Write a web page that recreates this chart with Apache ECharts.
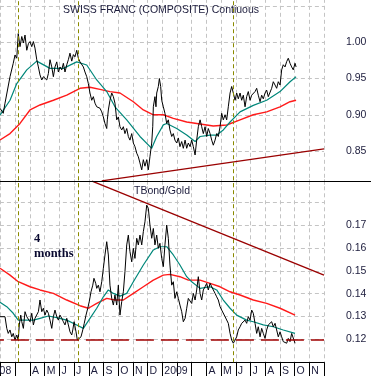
<!DOCTYPE html>
<html><head><meta charset="utf-8">
<script src="https://cdn.jsdelivr.net/npm/echarts@6/dist/echarts.min.js"></script>
<style>html,body{margin:0;padding:0;background:#fff;overflow:hidden}#c{width:371px;height:376px}</style>
</head><body><div id="c"></div>
<script>
// x values are months counted from 1 Jan 2008 (0 = Jan 2008, 12 = Jan 2009)
const monthLabels = ['2008','','','A','M','J','J','A','S','O','N','D','2009','','','A','M','J','J','A','S','O','N',''];
const eventMonths = [2.18, 6.27, 16.81];

const chfPrice = [
[0.96,0.909],[1.18,0.902],[1.30,0.916],[1.64,0.9525],[1.86,0.971],[1.98,0.9825],[2.10,0.978],[2.20,1.012],
[2.32,0.994],[2.44,1.008],[2.55,0.999],[2.66,1.010],[2.78,0.989],[2.89,0.998],[3.00,1.001],[3.12,0.994],
[3.23,1.001],[3.34,0.992],[3.46,0.976],[3.57,0.966],[3.68,0.955],[3.80,0.948],[3.91,0.9525],[4.14,0.948],
[4.25,0.957],[4.36,0.976],[4.48,0.966],[4.59,0.9525],[4.70,0.966],[4.82,0.973],[4.93,0.959],[5.04,0.966],
[5.16,0.962],[5.27,0.971],[5.38,0.959],[5.50,0.969],[5.61,0.976],[5.72,0.985],[5.84,0.974],[5.95,0.983],
[6.06,0.980],[6.18,0.989],[6.29,0.978],[6.40,0.973],[6.52,0.971],[6.63,0.966],[6.74,0.959],[6.86,0.9525],
[6.97,0.943],[7.08,0.930],[7.20,0.920],[7.31,0.925],[7.42,0.916],[7.54,0.911],[7.65,0.913],[7.76,0.909],
[7.88,0.904],[7.99,0.897],[8.10,0.888],[8.22,0.881],[8.26,0.893],[8.33,0.9066],[8.44,0.920],[8.56,0.930],
[8.67,0.925],[8.78,0.916],[8.90,0.893],[9.01,0.897],[9.12,0.8835],[9.24,0.879],[9.35,0.8835],[9.46,0.874],
[9.58,0.881],[9.69,0.870],[9.80,0.865],[9.92,0.874],[10.03,0.861],[10.14,0.856],[10.26,0.847],[10.37,0.842],
[10.48,0.8335],[10.60,0.824],[10.71,0.838],[10.82,0.829],[10.94,0.838],[11.05,0.824],[11.16,0.842],[11.28,0.861],
[11.35,0.8835],[11.39,0.911],[11.50,0.925],[11.57,0.911],[11.62,0.930],[11.73,0.939],[11.80,0.950],[11.89,0.939],
[11.96,0.920],[12.07,0.911],[12.18,0.902],[12.30,0.888],[12.41,0.893],[12.52,0.879],[12.64,0.870],[12.75,0.874],
[12.86,0.865],[12.98,0.861],[13.09,0.868],[13.20,0.856],[13.32,0.863],[13.43,0.8537],[13.55,0.865],[13.66,0.8537],
[13.77,0.861],[13.89,0.856],[14.00,0.865],[14.11,0.856],[14.23,0.8445],[14.34,0.865],[14.45,0.8835],[14.57,0.893],
[14.68,0.8835],[14.79,0.874],[14.91,0.8835],[15.02,0.870],[15.13,0.881],[15.25,0.874],[15.36,0.865],[15.47,0.858],
[15.59,0.865],[15.70,0.874],[15.81,0.870],[15.93,0.8835],[16.04,0.902],[16.15,0.893],[16.27,0.900],[16.38,0.893],
[16.49,0.911],[16.61,0.930],[16.72,0.939],[16.83,0.930],[16.95,0.920],[17.06,0.930],[17.17,0.922],[17.29,0.930],
[17.40,0.920],[17.51,0.927],[17.63,0.911],[17.74,0.925],[17.85,0.932],[17.97,0.920],[18.08,0.927],[18.19,0.925],
[18.31,0.932],[18.42,0.9365],[18.53,0.927],[18.65,0.918],[18.76,0.927],[18.87,0.922],[18.99,0.930],[19.10,0.934],
[19.21,0.925],[19.33,0.927],[19.44,0.9365],[19.55,0.9456],[19.67,0.941],[19.78,0.9365],[19.89,0.9456],[20.01,0.941],
[20.12,0.962],[20.23,0.969],[20.35,0.966],[20.46,0.9733],[20.57,0.978],[20.69,0.971],[20.80,0.966],[20.91,0.962],
[21.03,0.971],[21.10,0.966]
];
const chfMaShort = [
[0.96,0.8996],[1.64,0.920],[2.10,0.943],[2.78,0.962],[3.46,0.974],[4.36,0.964],[5.27,0.964],[6.18,0.973],
[6.86,0.9687],[7.54,0.948],[8.22,0.932],[8.78,0.911],[9.58,0.893],[10.48,0.870],[11.28,0.8537],[11.62,0.870],
[12.07,0.886],[12.30,0.888],[12.98,0.881],[13.66,0.872],[14.23,0.863],[14.57,0.870],[15.25,0.872],[15.70,0.872],
[16.15,0.879],[16.61,0.890],[17.29,0.904],[18.19,0.913],[19.10,0.920],[20.01,0.932],[20.69,0.9456],[21.10,0.9525]
];
const chfMaLong = [
[0.96,0.8652],[1.64,0.874],[2.32,0.888],[3.00,0.9066],[3.68,0.9135],[4.59,0.920],[5.50,0.927],[6.40,0.9365],
[7.08,0.938],[7.76,0.935],[8.44,0.932],[9.12,0.930],[10.03,0.918],[10.71,0.9066],[11.39,0.900],[12.07,0.900],
[12.75,0.8951],[13.66,0.890],[14.57,0.8873],[15.47,0.8845],[16.38,0.8859],[17.29,0.893],[18.19,0.900],[19.10,0.904],
[20.01,0.911],[20.69,0.918],[21.10,0.920]
];
const chfTrend = [[7.88,0.8087],[23,0.8528]];

const ratioPrice = [
[0.96,0.1299],[1.30,0.1299],[1.42,0.1248],[1.52,0.1226],[1.64,0.1241],[1.76,0.1211],[1.86,0.1226],[1.98,0.1197],
[2.10,0.1219],[2.20,0.1197],[2.27,0.1263],[2.37,0.1306],[2.44,0.1277],[2.55,0.1248],[2.66,0.1321],[2.78,0.1299],
[2.89,0.1306],[3.00,0.1277],[3.12,0.1314],[3.23,0.1263],[3.34,0.1292],[3.46,0.1299],[3.57,0.1321],[3.68,0.1372],
[3.80,0.1321],[3.91,0.1336],[4.02,0.1306],[4.14,0.1328],[4.25,0.1314],[4.36,0.1284],[4.48,0.1248],[4.59,0.1299],
[4.70,0.1328],[4.82,0.1299],[4.93,0.1284],[5.04,0.1306],[5.16,0.1292],[5.27,0.1277],[5.38,0.1263],[5.50,0.1292],
[5.61,0.1263],[5.72,0.1233],[5.84,0.1219],[5.91,0.1241],[6.00,0.1277],[6.13,0.1233],[6.22,0.1197],[6.35,0.1190],
[6.47,0.1211],[6.59,0.1241],[6.69,0.1270],[6.81,0.1306],[6.93,0.1336],[7.03,0.1365],[7.15,0.1408],[7.27,0.1437],
[7.35,0.1467],[7.47,0.1445],[7.54,0.1423],[7.65,0.1437],[7.76,0.1408],[7.88,0.1452],[7.99,0.1511],[8.10,0.1569],
[8.22,0.1627],[8.33,0.1569],[8.44,0.1437],[8.56,0.1379],[8.67,0.1350],[8.78,0.1394],[8.90,0.1350],[9.01,0.1437],
[9.12,0.1306],[9.24,0.1365],[9.35,0.1408],[9.46,0.1496],[9.58,0.1613],[9.69,0.1656],[9.80,0.1584],[9.92,0.1539],
[10.03,0.1598],[10.14,0.1554],[10.26,0.1642],[10.37,0.1613],[10.48,0.1656],[10.60,0.1613],[10.71,0.1671],[10.82,0.1714],
[10.94,0.1787],[11.05,0.1773],[11.16,0.1700],[11.28,0.1642],[11.39,0.1685],[11.50,0.1613],[11.62,0.1656],[11.73,0.1598],
[11.84,0.1620],[11.96,0.1554],[12.07,0.1518],[12.18,0.1613],[12.30,0.1700],[12.41,0.1642],[12.52,0.1525],[12.64,0.1437],
[12.75,0.1452],[12.86,0.1379],[12.98,0.1408],[13.09,0.1379],[13.20,0.1350],[13.32,0.1321],[13.43,0.1277],[13.55,0.1292],
[13.66,0.1336],[13.77,0.1379],[13.89,0.1379],[14.00,0.1357],[14.11,0.1401],[14.23,0.1372],[14.34,0.1416],[14.45,0.1474],
[14.57,0.1401],[14.68,0.1372],[14.79,0.1416],[14.91,0.1430],[15.02,0.1445],[15.13,0.1416],[15.25,0.1445],[15.47,0.1416],
[15.59,0.1401],[15.70,0.1386],[15.81,0.1372],[15.93,0.1343],[16.04,0.1328],[16.15,0.1321],[16.27,0.1299],[16.38,0.1306],
[16.49,0.1270],[16.61,0.1226],[16.72,0.1197],[16.83,0.1183],[16.95,0.1197],[17.06,0.1211],[17.17,0.1241],[17.29,0.1255],
[17.40,0.1270],[17.51,0.1263],[17.63,0.1284],[17.74,0.1270],[17.85,0.1299],[17.97,0.1284],[18.08,0.1328],[18.19,0.1314],
[18.31,0.1270],[18.42,0.1226],[18.53,0.1255],[18.65,0.1211],[18.76,0.1248],[18.87,0.1226],[18.99,0.1204],[19.10,0.1241],
[19.21,0.1263],[19.33,0.1270],[19.44,0.1277],[19.55,0.1255],[19.67,0.1270],[19.78,0.1241],[19.89,0.1211],[20.01,0.1233],
[20.12,0.1211],[20.23,0.1190],[20.35,0.1197],[20.46,0.1183],[20.57,0.1204],[20.69,0.1190],[20.80,0.1226],[20.91,0.1219],
[21.03,0.1183]
];
const ratioMaShort = [
[0.96,0.1362],[1.42,0.1343],[1.86,0.1314],[2.20,0.1284],[2.78,0.1284],[3.23,0.1284],[3.68,0.1292],[4.25,0.1302],
[4.82,0.1295],[5.50,0.1284],[6.18,0.1263],[6.63,0.1248],[7.08,0.1292],[7.54,0.1336],[7.99,0.1386],[8.33,0.1416],
[8.67,0.1401],[9.12,0.1389],[9.58,0.1401],[10.03,0.1452],[10.71,0.1525],[11.39,0.1591],[11.84,0.1605],[12.30,0.1605],
[12.75,0.1569],[13.20,0.1525],[13.66,0.1474],[14.00,0.1452],[14.57,0.1423],[15.25,0.1430],[15.70,0.1416],[16.15,0.1372],
[16.61,0.1336],[17.06,0.1306],[17.74,0.1284],[18.19,0.1277],[18.87,0.1263],[19.55,0.1255],[20.23,0.1241],[21.03,0.1226]
];
const ratioMaLong = [
[0.96,0.1511],[1.64,0.1481],[2.20,0.1452],[3.00,0.1430],[3.68,0.1416],[4.59,0.1401],[5.50,0.1372],[6.40,0.1347],
[6.97,0.1336],[7.54,0.1357],[8.22,0.1379],[8.78,0.1372],[9.35,0.1372],[10.03,0.1401],[10.71,0.1430],[11.39,0.1459],
[12.07,0.1481],[12.52,0.1484],[13.20,0.1474],[13.77,0.1459],[14.57,0.1459],[15.25,0.1445],[15.93,0.1430],[16.61,0.1408],
[17.29,0.1394],[18.19,0.1372],[19.10,0.1357],[20.01,0.1336],[21.03,0.1306]
];
const ratioTrend = [[7.22,0.1892],[23,0.1481]];
const ratioSupport = 0.1178;

const FONT = "'Liberation Sans', Arial, sans-serif";
const TXT = '#1c1c3c';
const gridDash = { color: '#c4c4c4', type: [4, 3], width: 1 };

function xAxisFor(gridIndex, showLabels) {
  return {
    type: 'value', gridIndex: gridIndex, min: 0, max: 23, interval: 1,
    axisLine: { show: showLabels, onZero: false, lineStyle: { color: '#000', width: 1 } },
    axisTick: { show: showLabels, length: 15, lineStyle: { color: '#000' } },
    axisLabel: {
      show: showLabels, align: 'left', margin: 3, padding: [0, 0, 0, 2],
      fontFamily: FONT, fontSize: 10.5, color: TXT,
      showMinLabel: true, showMaxLabel: true,
      formatter: function (v) { const s = monthLabels[Math.round(v)]; return s === undefined ? '' : s; }
    },
    splitLine: { show: true, lineStyle: gridDash }
  };
}

function lineSeries(name, data, color, width, xi, yi, extra) {
  return Object.assign({
    name: name, type: 'line', data: data, xAxisIndex: xi, yAxisIndex: yi,
    showSymbol: false, symbol: 'none', smooth: false, silent: true,
    lineStyle: { color: color, width: width }, z: 3
  }, extra || {});
}

const eventLine = {
  silent: true, symbol: ['none', 'none'], label: { show: false },
  lineStyle: { color: '#8a8a00', type: [4, 3], width: 1 },
  data: eventMonths.map(function (m) { return { xAxis: m }; })
};

const chart = echarts.init(document.getElementById('c'), null, { renderer: 'canvas' });
chart.setOption({
  animation: false,
  backgroundColor: '#fff',
  grid: [
    { left: -14.1, right: 47, top: -1.18, height: 188.4, containLabel: false, outerBoundsMode: 'none' },
    { left: -14.1, right: 47, top: 179.3, height: 182.9, containLabel: false, outerBoundsMode: 'none' }
  ],
  xAxis: [xAxisFor(0, false), xAxisFor(1, true)],
  yAxis: [
    {
      type: 'value', gridIndex: 0, position: 'right', min: 0.80, max: 1.06, interval: 0.05,
      axisLine: { show: true, lineStyle: { color: '#000', width: 1 } },
      axisTick: { show: true, length: 8, lineStyle: { color: '#000' } },
      minorTick: { show: true, splitNumber: 5, length: 4, lineStyle: { color: '#000' } },
      axisLabel: {
        margin: 22, fontFamily: FONT, fontSize: 10.5, color: TXT,
        formatter: function (v) { return (v > 0.84 && v < 1.01) ? v.toFixed(2) : ''; }
      },
      splitLine: { show: true, showMinLine: false, showMaxLine: false, lineStyle: gridDash }
    },
    {
      type: 'value', gridIndex: 1, position: 'right', min: 0.11, max: 0.19, interval: 0.01,
      axisLine: { show: true, lineStyle: { color: '#000', width: 1 } },
      axisTick: { show: true, length: 8, lineStyle: { color: '#000' } },
      minorTick: { show: true, splitNumber: 2, length: 4, lineStyle: { color: '#000' } },
      axisLabel: {
        margin: 22, fontFamily: FONT, fontSize: 10.5, color: TXT,
        formatter: function (v) { return (v > 0.115 && v < 0.175) ? v.toFixed(2) : ''; }
      },
      splitLine: { show: true, showMinLine: false, showMaxLine: false, lineStyle: gridDash }
    }
  ],
  series: [
    lineSeries('CHF long MA', chfMaLong, '#ff1a1a', 1.4, 0, 0),
    lineSeries('CHF short MA', chfMaShort, '#00877a', 1.2, 0, 0),
    lineSeries('CHF', chfPrice, '#000', 1, 0, 0, { z: 4, markLine: eventLine }),
    lineSeries('CHF trend', chfTrend, '#9a0000', 1.3, 0, 0),
    lineSeries('Ratio long MA', ratioMaLong, '#ff1a1a', 1.4, 1, 1),
    lineSeries('Ratio short MA', ratioMaShort, '#00877a', 1.2, 1, 1),
    lineSeries('TBond/Gold', ratioPrice, '#000', 1, 1, 1, { z: 4, markLine: eventLine }),
    lineSeries('Ratio trend', ratioTrend, '#9a0000', 1.3, 1, 1),
    lineSeries('Ratio support', [], '#a00000', 1.5, 1, 1, {
      markLine: {
        silent: true, symbol: ['none', 'none'], label: { show: false },
        lineStyle: { color: '#a00000', type: [18, 7], width: 1.5 },
        data: [{ yAxis: ratioSupport }]
      }
    })
  ],
  graphic: [
    { type: 'line', silent: true, z: 10, shape: { x1: 0, y1: 181.5, x2: 371, y2: 181.5 }, style: { stroke: '#000', lineWidth: 1 } },
    { type: 'text', silent: true, z: 10, left: 63, top: 5, style: { text: 'SWISS FRANC (COMPOSITE) Contiuous', font: '10.5px ' + FONT, fill: TXT } },
    { type: 'text', silent: true, z: 10, left: 134, top: 186, style: { text: 'TBond/Gold', font: '10.5px ' + FONT, fill: TXT } },
    { type: 'text', silent: true, z: 10, left: 34, top: 231, style: { text: '4\nmonths', font: 'bold 12.5px "Liberation Serif", "Times New Roman", serif', fill: '#0a0a30', lineHeight: 15 } }
  ]
});
</script></body></html>
